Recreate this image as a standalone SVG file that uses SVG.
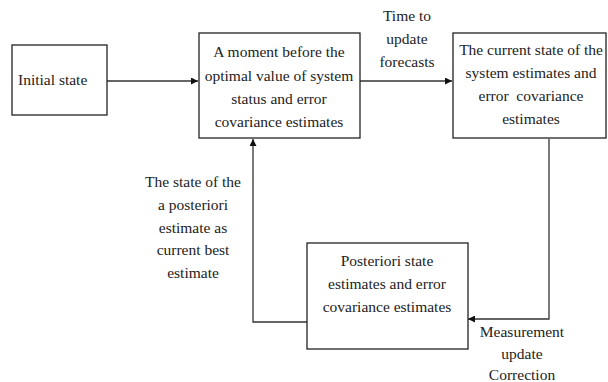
<svg xmlns="http://www.w3.org/2000/svg" width="608" height="382" viewBox="0 0 608 382">
<defs>
<style>
.box{fill:#fff;stroke:#222;stroke-width:1.3}
.t{font-family:"Liberation Serif","Times New Roman",serif;font-size:15.5px;fill:#222;text-anchor:middle}
.ln{fill:none;stroke:#333;stroke-width:1.3}
</style>
<marker id="ah" viewBox="0 0 10 10" refX="10" refY="5" markerWidth="7" markerHeight="7" orient="auto" markerUnits="userSpaceOnUse">
<path d="M0,0 L10,5 L0,10 z" fill="#111"/>
</marker>
</defs>
<rect width="608" height="382" fill="#fff"/>
<g id="connectors">
<line class="ln" x1="107" y1="81" x2="198" y2="81" marker-end="url(#ah)"/>
<line class="ln" x1="360" y1="81" x2="452" y2="81" marker-end="url(#ah)"/>
<polyline class="ln" points="549,139 549,319 468,319" marker-end="url(#ah)"/>
<polyline class="ln" points="307,322 253,322 253,139" marker-end="url(#ah)"/>
<g id="label-time">
<text class="t" x="407" y="21">Time to</text>
<text class="t" x="407" y="44">update</text>
<text class="t" x="407" y="67">forecasts</text>
</g>
<g id="label-posteriori">
<text class="t" x="193" y="187">The state of the</text>
<text class="t" x="193" y="210">a posteriori</text>
<text class="t" x="193" y="233">estimate as</text>
<text class="t" x="193" y="255">current best</text>
<text class="t" x="193" y="278">estimate</text>
</g>
<g id="label-measure">
<text class="t" x="522" y="337">Measurement</text>
<text class="t" x="522" y="359">update</text>
<text class="t" x="522" y="380">Correction</text>
</g>
</g>
<g id="initial">
<rect class="box" x="12" y="45" width="95" height="70"/>
<text class="t" x="18" y="85" style="text-anchor:start">Initial state</text>
</g>
<g id="prior">
<rect class="box" x="199" y="33" width="161" height="105"/>
<text class="t" x="279" y="57">A moment before the</text>
<text class="t" x="279" y="81">optimal value of system</text>
<text class="t" x="279" y="104">status and error</text>
<text class="t" x="279" y="127">covariance estimates</text>
</g>
<g id="current">
<rect class="box" x="453" y="33" width="153" height="105"/>
<text class="t" x="531" y="55">The current state of the</text>
<text class="t" x="531" y="78">system estimates and</text>
<text class="t" x="531" y="101" xml:space="preserve">error  covariance</text>
<text class="t" x="531" y="124">estimates</text>
</g>
<g id="posterior">
<rect class="box" x="307" y="243" width="161" height="106"/>
<text class="t" x="387" y="266">Posteriori state</text>
<text class="t" x="387" y="289">estimates and error</text>
<text class="t" x="387" y="312">covariance estimates</text>
</g>
</svg>
